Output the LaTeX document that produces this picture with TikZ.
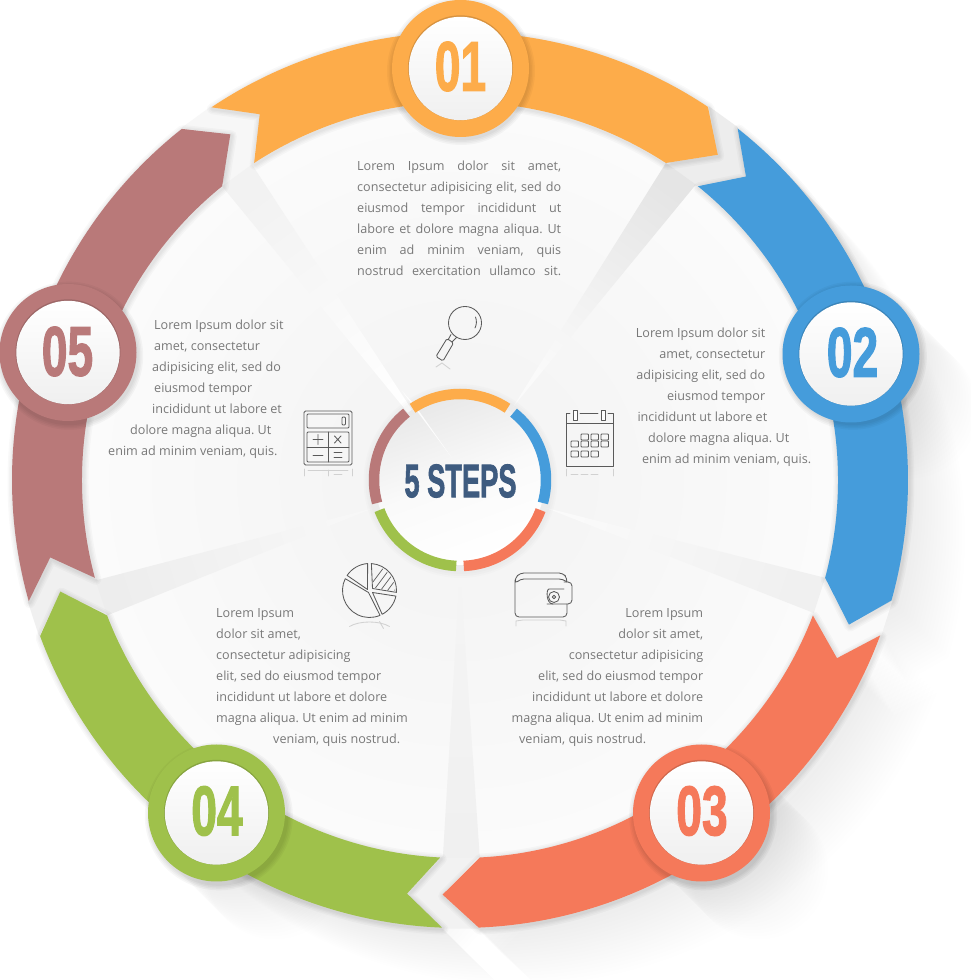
\documentclass[tikz,border=0pt]{standalone}
\usepackage{fontspec}
\usetikzlibrary{calc}
\setmainfont{Open Sans}
\newfontfamily\numfont{Liberation Sans}[BoldFeatures={FakeBold=2}]
\frenchspacing
\definecolor{cO}{HTML}{FDAC4A}
\definecolor{cB}{HTML}{459CDB}
\definecolor{cR}{HTML}{F5795A}
\definecolor{cG}{HTML}{9FC14B}
\definecolor{cM}{HTML}{B97979}
\definecolor{cT}{HTML}{787878}
\definecolor{cS}{HTML}{3E5B7F}
\definecolor{cI}{HTML}{5A5A5A}
% one arrow band, turned by #1 degrees
\newcommand\bandpath[1]{(#1+123.7:448) arc[start angle=#1+123.7,end angle=#1+56.4,radius=448] -- (#1+51.6:415) -- (#1+57:378) arc[start angle=#1+57,end angle=#1+123,radius=378] -- (#1+118.7:417) -- cycle}
\newcommand\gappath[1]{(#1+56.4:449) -- (#1+51.8:449) -- (#1+46.7:417) -- (#1+51.4:376) -- (#1+57:376) -- (#1+51.6:415) -- cycle}
\newcommand\J[2]{\makebox[#1pt][s]{#2}}
\newcommand\R[2]{\makebox[#1pt][r]{#2}}
\tikzset{
  para/.style={anchor=north west,inner sep=0pt,align=left,text=cT,font=\fontsize{12.6}{21}\selectfont},
  num/.style={inner sep=0pt,font=\numfont\bfseries\fontsize{70}{70}\selectfont},
  icon/.style={draw=cI,line width=.85pt,line join=round,line cap=round},
  mirror/.style={draw=cI!28,line width=.85pt,line cap=round},
  px/.style={x=1pt,y=-1pt,yshift=980pt},
}
\begin{document}
\begin{tikzpicture}[x=1pt,y=1pt]
\useasboundingbox (0,0) rectangle (971,980);
\fill[white] (0,0) rectangle (971,980);
\begin{scope}[shift={(460,500)}]
  % long shadows falling to the lower right
  \foreach \a in {0,-72,-144,-216,-288}{
    \foreach \i in {1,...,19}{
      \fill[black,opacity=.0045,shift={(\i*3,-\i*3)}] \bandpath{\a};
    }
  }
  \foreach \a in {90,18,-54,-126,162}{
    \foreach \i in {1,...,19}{
      \fill[black,opacity=.0045,shift={(\i*3,-\i*3)}] (\a:412) circle[radius=69];
    }
  }
  % panel
  \shade[inner color=black!5,outer color=black!1.5] (0,0) circle[radius=380];
  % gaps between the arrows
  \fill[black!7] \gappath{0};
  \fill[black!2] \gappath{-72};
  \fill[black!5] \gappath{-144};
  \fill[black!6] \gappath{-216};
  \fill[black!3] \gappath{72};
  % spokes
  \shade[left color=black!10,right color=black!2,shading angle=-36] (57:378) -- (51.4:378) -- (54:90) -- cycle;
  \shade[left color=black!6,right color=black!2,shading angle=-108] (-15:378) -- (-20.6:378) -- (-18:90) -- cycle;
  \shade[left color=black!6,right color=black!4,shading angle=-180] (-87:378) -- (-92.6:378) -- (-90:90) -- cycle;
  \shade[left color=black!7,right color=black!3,shading angle=-252] (-159:378) -- (-164.6:378) -- (-162:90) -- cycle;
  \shade[left color=black!5,right color=white,shading angle=36] (129:378) -- (123.4:378) -- (126:40) -- cycle;
  % soft shadows of the bands
  \foreach \a in {0,-72,-144,-216,-288}{
    \foreach \w in {11,8,5.5,3}{
      \draw[black,opacity=.022,line width=\w pt,line join=round,shift={(1,-1.5)}] \bandpath{\a};
    }
  }
  % bands
  \fill[cO] \bandpath{0};
  \fill[cB] \bandpath{-72};
  \fill[cR] \bandpath{-144};
  \fill[cG] \bandpath{-216};
  \fill[cM] \bandpath{-288};
  % shadows of the badges
  \foreach \a in {90,18,-54,-126,162}{
    \foreach \r in {74,72.5,71,69.5}{
      \fill[black,opacity=.03] ($(\a:412)+(1,-3)$) circle[radius=\r];
    }
  }
  % hub
  \foreach \r in {97,95,93}{\fill[black,opacity=.012] (0.5,-1) circle[radius=\r];}
  \shade[top color=black!9,bottom color=white,middle color=black!2,shading angle=20] (0,0) circle[radius=85];
\end{scope}
\fill[white,opacity=.85] (402,589) -- (414,576) -- (452,522) -- cycle;
\begin{scope}[shift={(460,500)}]
  \draw[cO,line width=10.5pt] (123.5:86) arc[start angle=123.5,end angle=56.5,radius=86];
  \draw[cB,line width=10.5pt] (51.5:86) arc[start angle=51.5,end angle=-15.5,radius=86];
  \draw[cR,line width=10.5pt] (-20.5:86) arc[start angle=-20.5,end angle=-87.5,radius=86];
  \draw[cG,line width=10.5pt] (-92.5:86) arc[start angle=-92.5,end angle=-159.5,radius=86];
  \draw[cM,line width=10.5pt] (-164.5:86) arc[start angle=-164.5,end angle=-231.5,radius=86];
\end{scope}
\begin{scope}[px]
  % badges
  \foreach \x/\y/\c in {460.5/68.5/cO,851/354/cB,701.5/813/cR,216.5/813/cG,68/352.5/cM}{
    \fill[\c] (\x,\y) circle[radius=68.5];
    \fill[\c!85!black] (\x,\y-.7) circle[radius=52.5];
    \shade[top color=white,bottom color=black!6] (\x,\y) circle[radius=51.7];
  }
  \node[num,text=cO] (n1) at (460.5,66.5) {\scalebox{.66}[1]{01}};
  \node[num,text=cB] (n2) at (852.5,352.5) {\scalebox{.66}[1]{02}};
  \node[num,text=cR] (n3) at (702,811) {\scalebox{.66}[1]{03}};
  \node[num,text=cG] (n4) at (217,811) {\scalebox{.66}[1]{04}};
  \node[num,text=cM] (n5) at (67.5,351.5) {\scalebox{.66}[1]{05}};
  \node[inner sep=0pt,text=cS,font=\numfont\bfseries\fontsize{47}{47}\selectfont] (title) at (460.5,481) {\scalebox{.58}[1]{5 STEPS}};
  % texts
  \node[para] (t1) at (357,161) {\J{204}{Lorem Ipsum dolor sit amet,}\\\J{204}{consectetur adipisicing elit, sed do}\\\J{204}{eiusmod tempor incididunt ut}\\\J{204}{labore et dolore magna aliqua. Ut}\\\J{204}{enim ad minim veniam, quis}\\\J{204}{nostrud exercitation ullamco sit.}};
  \node[para] (t2) at (636,328) {\R{129}{Lorem Ipsum dolor sit}\\\R{129}{amet, consectetur}\\\R{129}{adipisicing elit, sed do}\\\R{129}{eiusmod tempor}\\\R{131}{incididunt ut labore et}\\\R{153}{dolore magna aliqua. Ut}\\\R{175}{enim ad minim veniam, quis.}};
  \node[para] (t3) at (513,608) {\R{190}{Lorem Ipsum}\\\R{190}{dolor sit amet,}\\\R{190}{consectetur adipisicing}\\\R{190}{elit, sed do eiusmod tempor}\\\R{190}{incididunt ut labore et dolore}\\\R{190}{magna aliqua. Ut enim ad minim}\\\R{133}{veniam, quis nostrud.}};
  \node[para] (t4) at (216,608) {Lorem Ipsum\\dolor sit amet,\\consectetur adipisicing\\elit, sed do eiusmod tempor\\incididunt ut labore et dolore\\magna aliqua. Ut enim ad minim\\\hspace*{57pt}veniam, quis nostrud.};
  \node[para] (t5) at (108,320) {\hspace*{46pt}Lorem Ipsum dolor sit\\\hspace*{46pt}amet, consectetur\\\hspace*{44pt}adipisicing elit, sed do\\\hspace*{46pt}eiusmod tempor\\\hspace*{44pt}incididunt ut labore et\\\hspace*{22pt}dolore magna aliqua. Ut\\enim ad minim veniam, quis.};
  % magnifier
  \draw[icon] (465,323) circle[radius=16.5];
  \draw[icon] (475.5,317) .. controls (477,321) and (476.5,325) .. (475,328);
  \draw[icon] (456.5,337.5) -- (452,342) (451,334.5) -- (448,340);
  \draw[icon,rounded corners=1.5pt] (447,338.5) -- (453.5,343) -- (443,361) -- (436,356.5) -- cycle;
  \draw[mirror] (436,367) -- (442,363) -- (450,369);
  % calendar
  \draw[icon] (566,423) -- (566,466) -- (613,466) -- (613,413) -- (608,413) (598,413) -- (580,413) (570,413) -- (566,413) -- (566,423) -- (613,423);
  \draw[icon,fill=white] (573,410) rectangle (577,420) (601,410) rectangle (605,420);
  \foreach \x/\y in {581/434,591/434,601/434,571/441,581/441,591/441,601/441,571/451,581/451,591/451}{
    \draw[icon,rounded corners=.8pt] (\x,\y) rectangle ++(7.5,6);
  }
  \draw[mirror] (566,469) -- (566,476) (613,469) -- (613,476) (571,474) -- (578,474) (581,474) -- (588,474) (591,474) -- (598,474);
  % calculator
  \draw[icon,rounded corners=1.5pt] (304,411) rectangle (352,465);
  \draw[icon,rounded corners=1pt] (307,414) rectangle (349,428);
  \draw[icon,rounded corners=1pt] (342,417) rectangle (345.5,425);
  \draw[icon,rounded corners=1pt] (307,432) rectangle (349,462);
  \draw[icon] (328,432) -- (328,462) (307,447) -- (349,447);
  \draw[icon] (318,434.5) -- (318,444.5) (313,439.5) -- (323,439.5) (334.5,436) -- (341,443) (341,436) -- (334.5,443);
  \draw[icon] (313,455) -- (323,455) (334,452.5) -- (342,452.5) (334,457) -- (342,457);
  \draw[mirror] (304,469) -- (304,476) (352,469) -- (352,476) (308,470) -- (348,470) (328,470) -- (328,476) (334,474) -- (342,474);
  % wallet
  \draw[icon,rounded corners=4pt] (515,582) -- (515,617) -- (567,617) -- (567,604) (567,582) -- (567,578) -- (563,573) -- (520,573) -- (515,578) -- (515,584) -- (520,579) -- (563,579) -- (567,582);
  \draw[icon,rounded corners=4pt] (547,604) -- (572,604) -- (572,582) -- (564,582);
  \draw[icon,rounded corners=4pt] (564,589) -- (553,589) .. controls (546,589) and (546,604) .. (553,604);
  \draw[icon] (554,597) circle[radius=5.5] (554,597) circle[radius=1.8];
  \draw[mirror] (516,626) -- (516,621) -- (523,620) -- (560,620) -- (566,621) -- (566,626);
\end{scope}
% pie chart
\begin{scope}[shift={(369.5,389.5)}]
  \draw[icon] (-1,-2) -- (154:27) arc[start angle=154,end angle=293,radius=27] -- cycle;
  \draw[icon] (-2,1) -- (146:27) arc[start angle=146,end angle=94,radius=27] -- cycle;
  \draw[icon] (3,2) -- (86:27) arc[start angle=86,end angle=-4,radius=27] -- cycle;
  \draw[icon] (3,-2) -- (-12:27) arc[start angle=-12,end angle=-62,radius=27] -- cycle;
  \begin{scope}
    \clip (4,3) -- (86:25.5) arc[start angle=86,end angle=-4,radius=25.5] -- cycle;
    \foreach \k in {0,7,...,35}{\draw[cI,line width=.7pt] (\k-3,0) -- ++(18,24);}
  \end{scope}
  \draw[mirror] (-20,-36) .. controls (-10,-30) and (10,-30) .. (20,-36);
  \draw[mirror] (10,-31) -- (14,-38);
\end{scope}
\end{tikzpicture}
\end{document}
